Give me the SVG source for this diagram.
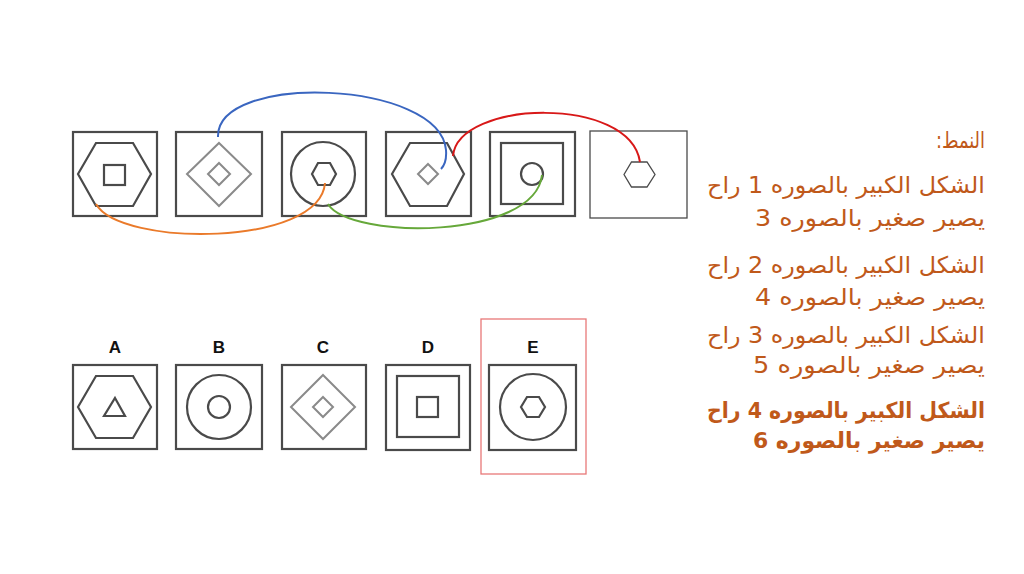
<svg xmlns="http://www.w3.org/2000/svg" width="1024" height="574" viewBox="0 0 1024 574">
<style>
.box{fill:none;stroke:#4a4a4a;stroke-width:2.2}
.thin{fill:none;stroke:#4a4a4a;stroke-width:1.3}
.sh{fill:none;stroke:#4a4a4a;stroke-width:2.2}
.gr{fill:none;stroke:#8a8a8a;stroke-width:2}
.lbl{font-family:"Liberation Sans",Arial,sans-serif;font-weight:bold;font-size:17px;fill:#111;text-anchor:middle}
.ar{font-family:"DejaVu Sans","Liberation Sans",sans-serif;font-size:23px;fill:#c0591a}
.arb{font-weight:bold;font-size:22px}
.con{fill:none;stroke-width:2}
</style>
<rect width="1024" height="574" fill="#fff"/>
<g id="p1">
<rect class="box" x="73" y="132" width="84" height="84"/>
<polygon class="sh" points="78,174 96,143 133,143 151,174 133,206 96,206"/>
<rect class="sh" x="104" y="165" width="21" height="20"/>
</g>
<g id="p2">
<rect class="box" x="176" y="132" width="86" height="84"/>
<polygon class="gr" points="219,143 251,174 219,206 187,174"/>
<polygon class="gr" points="219,163 230,174 219,185 208,174"/>
</g>
<g id="p3">
<rect class="box" x="282" y="132" width="84" height="84"/>
<circle class="sh" cx="323" cy="174" r="32"/>
<polygon class="sh" points="312,174 318,163 330,163 336,174 330,185 318,185"/>
</g>
<g id="p4">
<rect class="box" x="386" y="132" width="85" height="84"/>
<polygon class="sh" points="392,174 410,143 447,143 464,174 447,206 410,206"/>
<polygon class="gr" points="428,164 438,174 428,184 418,174"/>
</g>
<g id="p5">
<rect class="box" x="490" y="132" width="85" height="84"/>
<rect class="sh" x="501" y="143" width="62" height="61"/>
<circle class="sh" cx="532" cy="174" r="11"/>
</g>
<g id="p6">
<rect class="thin" x="590" y="131" width="97" height="87"/>
<polygon class="thin" points="624,174.5 631.5,162 647,162 655,174.5 647,187 631.5,187"/>
</g>
<g id="connectors">
<path class="con" stroke="#3a66c0" d="M218,137 C216,72 440,80 446,150 Q447,163 441,169"/>
<path class="con" stroke="#d81818" d="M453,156 C458,100 630,95 640,162"/>
<path class="con" stroke="#ea7a2a" d="M96,204 C120,247 320,247 325,183"/>
<path class="con" stroke="#66a83a" d="M328,204 C350,240 535,240 542,175"/>
</g>
<g id="optA">
<text class="lbl" x="115" y="353">A</text>
<rect class="box" x="73" y="365" width="84" height="84"/>
<polygon class="sh" points="78,407 96,376 133,376 151,407 133,438 96,438"/>
<polygon class="sh" points="115,398 125,416 104,416"/>
</g>
<g id="optB">
<text class="lbl" x="219" y="353">B</text>
<rect class="box" x="176" y="365" width="86" height="84"/>
<circle class="sh" cx="219" cy="407" r="32"/>
<circle class="sh" cx="219" cy="407" r="11"/>
</g>
<g id="optC">
<text class="lbl" x="323" y="353">C</text>
<rect class="box" x="282" y="365" width="84" height="84"/>
<polygon class="gr" points="323,375 355,407 323,439 291,407"/>
<polygon class="gr" points="323,397 333,407 323,417 313,407"/>
</g>
<g id="optD">
<text class="lbl" x="428" y="353">D</text>
<rect class="box" x="386" y="365" width="84" height="85"/>
<rect class="sh" x="397" y="376" width="62" height="61"/>
<rect class="sh" x="417" y="397" width="21" height="20"/>
</g>
<g id="optE">
<rect x="481" y="319" width="105" height="155" fill="none" stroke="#e87878" stroke-width="1.3"/>
<text class="lbl" x="533" y="353">E</text>
<rect class="box" x="489" y="365" width="87" height="85"/>
<circle class="sh" cx="533" cy="407" r="33"/>
<polygon class="sh" points="521,407 527,397 539,397 545,407 539,417 527,417"/>
</g>
<g id="text">
<text class="ar" x="985" y="148" direction="rtl" text-anchor="start" font-size="20" textLength="49" lengthAdjust="spacingAndGlyphs">النمط:</text>
<text class="ar" x="985" y="193" direction="rtl" text-anchor="start" textLength="278" lengthAdjust="spacingAndGlyphs">الشكل الكبير بالصوره 1 راح</text>
<text class="ar" x="985" y="226" direction="rtl" text-anchor="start" textLength="230" lengthAdjust="spacingAndGlyphs">يصير صغير بالصوره 3</text>
<text class="ar" x="985" y="273" direction="rtl" text-anchor="start" textLength="278" lengthAdjust="spacingAndGlyphs">الشكل الكبير بالصوره 2 راح</text>
<text class="ar" x="985" y="305" direction="rtl" text-anchor="start" textLength="230" lengthAdjust="spacingAndGlyphs">يصير صغير بالصوره 4</text>
<text class="ar" x="985" y="343" direction="rtl" text-anchor="start" textLength="278" lengthAdjust="spacingAndGlyphs">الشكل الكبير بالصوره 3 راح</text>
<text class="ar" x="985" y="373" direction="rtl" text-anchor="start" textLength="232" lengthAdjust="spacingAndGlyphs">يصير صغير بالصوره 5</text>
<text class="ar arb" x="985" y="418" direction="rtl" text-anchor="start" textLength="278" lengthAdjust="spacingAndGlyphs">الشكل الكبير بالصوره 4 راح</text>
<text class="ar arb" x="985" y="448" direction="rtl" text-anchor="start" textLength="232" lengthAdjust="spacingAndGlyphs">يصير صغير بالصوره 6</text>
</g>
</svg>
